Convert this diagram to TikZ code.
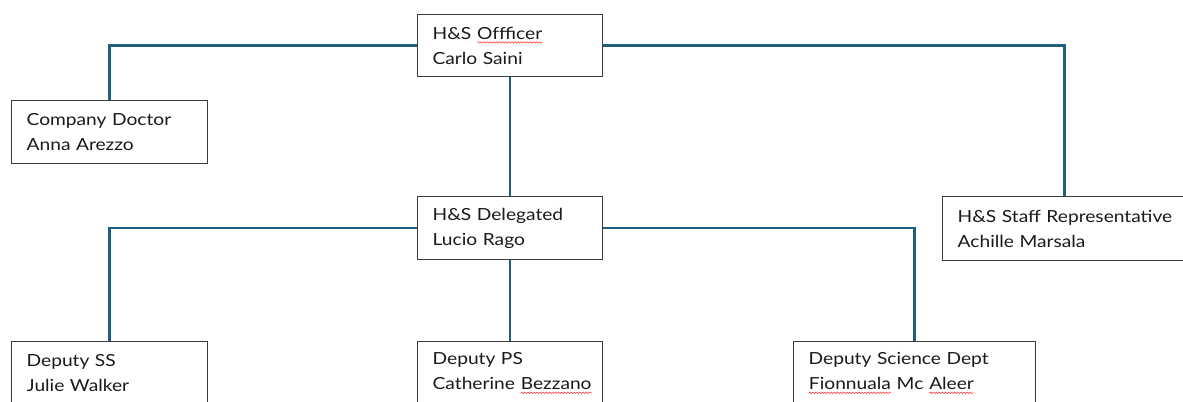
\documentclass[tikz,border=0pt]{standalone}
\usepackage{fontspec}
\setmainfont{Lato}[FakeStretch=1.15]
\usetikzlibrary{decorations.pathmorphing}
\definecolor{linkblue}{HTML}{1F5E7E}
\definecolor{boxgray}{HTML}{3C3C3C}
\definecolor{txtgray}{HTML}{1A1A1A}
\newcommand\spellerr[1]{\tikz[baseline=(sw.base)]{\node[inner sep=0pt,outer sep=0pt,minimum width=0pt,minimum height=0pt,text width={},align=left,anchor=base,draw=none,fill=none] (sw) {#1};\draw[red!75,line width=0.45pt,decorate,decoration={snake,amplitude=0.55pt,segment length=2.3pt}] ([yshift=-2.4pt]sw.base west) -- ([yshift=-2.4pt]sw.base east);}}
\newcommand\oneline[1]{\mbox{#1}}
\tikzset{
  orgbox/.style={draw=boxgray,line width=1pt,fill=white,anchor=north west,
    inner xsep=11.25pt,inner ysep=0pt,align=left,text=txtgray,
    font=\fontsize{12.5}{18.75}\selectfont},
  link/.style={draw=linkblue,line width=1.9pt}
}
\begin{document}
\begin{tikzpicture}[x=0.75pt,y=-0.75pt]
\path[use as bounding box] (0,0) rectangle (1183,401);
\clip (0,0) rectangle (1183,401);
\node[orgbox,minimum width=138.75pt,minimum height=46.5pt,text width=116.25pt] (off) at (417,14) {\oneline{H\&S \spellerr{Offficer}}\\\oneline{Carlo Saini}};
\node[orgbox,minimum width=147pt,minimum height=47.25pt,text width=124.5pt] (doc) at (11,100) {\oneline{Company Doctor}\\\oneline{Anna Arezzo}};
\node[orgbox,minimum width=138.75pt,minimum height=47.25pt,text width=116.25pt] (del) at (417,196) {\oneline{H\&S Delegated}\\\oneline{Lucio Rago}};
\node[orgbox,minimum width=183pt,minimum height=48pt,text width=160.5pt] (rep) at (942,196) {\oneline{H\&S Staff Representative}\\\oneline{Achille Marsala}};
\node[orgbox,minimum width=147pt,minimum height=47.25pt,text width=124.5pt] (ss) at (11,341) {\oneline{Deputy SS}\\\oneline{Julie Walker}};
\node[orgbox,minimum width=138.75pt,minimum height=47.25pt,text width=116.25pt] (ps) at (417,341) {\oneline{Deputy PS}\\\oneline{Catherine \spellerr{Bezzano}}};
\node[orgbox,minimum width=181.5pt,minimum height=47.25pt,text width=159pt] (sci) at (793,341) {\oneline{Deputy Science Dept}\\\oneline{\spellerr{Fionnuala} Mc \spellerr{Aleer}}};
\draw[link] (off.west) -| (doc.north);
\draw[link] (off.east) -| (rep.north);
\draw[link] (off.south) -- (del.north);
\draw[link] (del.west) -| (ss.north);
\draw[link] (del.south) -- (ps.north);
\draw[link] (del.east) -| (sci.north);
\end{tikzpicture}
\end{document}
